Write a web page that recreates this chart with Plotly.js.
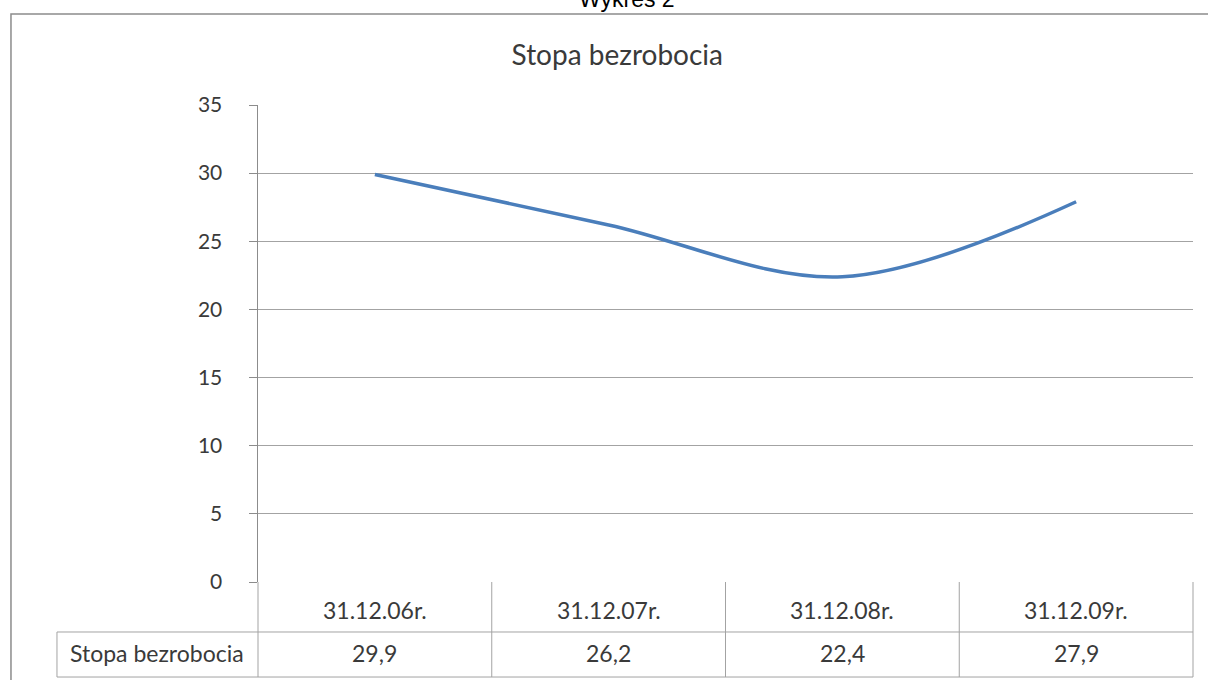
<!DOCTYPE html>
<html>
<head>
<meta charset="utf-8">
<script src="https://cdn.plot.ly/plotly-3.0.1.min.js"></script>
<style>html,body{margin:0;padding:0;background:#fff;} #chart{width:1208px;height:680px;}</style>
</head>
<body>
<div id="chart"></div>
<script>
// Data
const categories = ["31.12.06r.", "31.12.07r.", "31.12.08r.", "31.12.09r."];
const seriesName = "Stopa bezrobocia";
const values = [29.9, 26.2, 22.4, 27.9];
const yTicks = [0, 5, 10, 15, 20, 25, 30, 35];
const chartTitle = "Stopa bezrobocia";
const pageCaption = "Wykres 2";

const fontFam = "Lato, 'Open Sans', sans-serif";
const txtColor = "#3a3a3a";
const lineGray = "#a3a3a3";
const n = categories.length;

// Table geometry in paper units (plot area: 258..1193 x 105..582)
const rowSplit = -0.1048, rowBottom = -0.1992;
const catCenter = -0.0587, valCenter = -0.1488;
const keyLeft = -0.2150;

const shapes = [];
for (let i = 0; i <= n; i++) {
  shapes.push({type: 'line', xref: 'paper', yref: 'paper', x0: i / n, x1: i / n,
    y0: 0, y1: rowBottom, line: {color: lineGray, width: 1}});
}
shapes.push({type: 'line', xref: 'paper', yref: 'paper', x0: keyLeft, x1: 1, y0: rowSplit, y1: rowSplit, line: {color: lineGray, width: 1}});
shapes.push({type: 'line', xref: 'paper', yref: 'paper', x0: keyLeft, x1: 1, y0: rowBottom, y1: rowBottom, line: {color: lineGray, width: 1}});
shapes.push({type: 'line', xref: 'paper', yref: 'paper', x0: keyLeft, x1: keyLeft, y0: rowSplit, y1: rowBottom, line: {color: lineGray, width: 1}});
shapes.push({type: 'rect', xref: 'paper', yref: 'paper', x0: -0.2642, x1: 1.03, y0: 1.1908, y1: -0.3, line: {color: '#8c8c8c', width: 1.5}});

const annotations = [];
categories.forEach((c, i) => {
  annotations.push({xref: 'x', yref: 'paper', x: c, y: catCenter, text: c, showarrow: false,
    xanchor: 'center', yanchor: 'middle', font: {family: fontFam, size: 23, color: txtColor}});
  annotations.push({xref: 'x', yref: 'paper', x: c, y: valCenter, text: values[i].toFixed(1).replace('.', ','), showarrow: false,
    xanchor: 'center', yanchor: 'middle', font: {family: fontFam, size: 23, color: txtColor}});
});
annotations.push({xref: 'paper', yref: 'paper', x: (keyLeft) / 2, y: valCenter, text: seriesName, showarrow: false,
  xanchor: 'center', yanchor: 'middle', font: {family: fontFam, size: 23, color: txtColor}});
annotations.push({xref: 'paper', yref: 'paper', x: 0.395, y: 1.222, text: pageCaption, showarrow: false,
  xanchor: 'center', yanchor: 'middle', font: {family: 'Liberation Sans, Arial, sans-serif', size: 23, color: '#000'}});

const trace = {
  type: 'scatter', mode: 'lines', name: seriesName,
  x: categories, y: values,
  line: {color: '#4a7ebb', width: 3.5, shape: 'spline', smoothing: 1},
  hoverinfo: 'x+y'
};

const layout = {
  width: 1208, height: 680,
  margin: {l: 258, r: 15, t: 105, b: 98, pad: 0},
  paper_bgcolor: '#fff', plot_bgcolor: '#fff',
  showlegend: false,
  title: {text: chartTitle, x: 0.511, xanchor: 'center', y: 0.919, yanchor: 'middle', yref: 'container',
    font: {family: fontFam, size: 28, color: txtColor}},
  xaxis: {type: 'category', categoryorder: 'array', categoryarray: categories,
    range: [-0.5, n - 0.5], showticklabels: false, showgrid: false, zeroline: false, showline: false, ticks: '', fixedrange: true},
  yaxis: {range: [0, 35], tickvals: yTicks, ticktext: yTicks.map(String), showgrid: true, gridcolor: lineGray, gridwidth: 1.2,
    zeroline: false, showline: true, linecolor: '#8c8c8c', linewidth: 1.5,
    ticks: 'outside', ticklen: 8, tickcolor: '#8c8c8c', ticklabelstandoff: 22,
    tickfont: {family: fontFam, size: 21, color: txtColor}, fixedrange: true},
  shapes: shapes,
  annotations: annotations
};

Plotly.newPlot('chart', [trace], layout, {displayModeBar: false, staticPlot: true});
</script>
</body>
</html>
